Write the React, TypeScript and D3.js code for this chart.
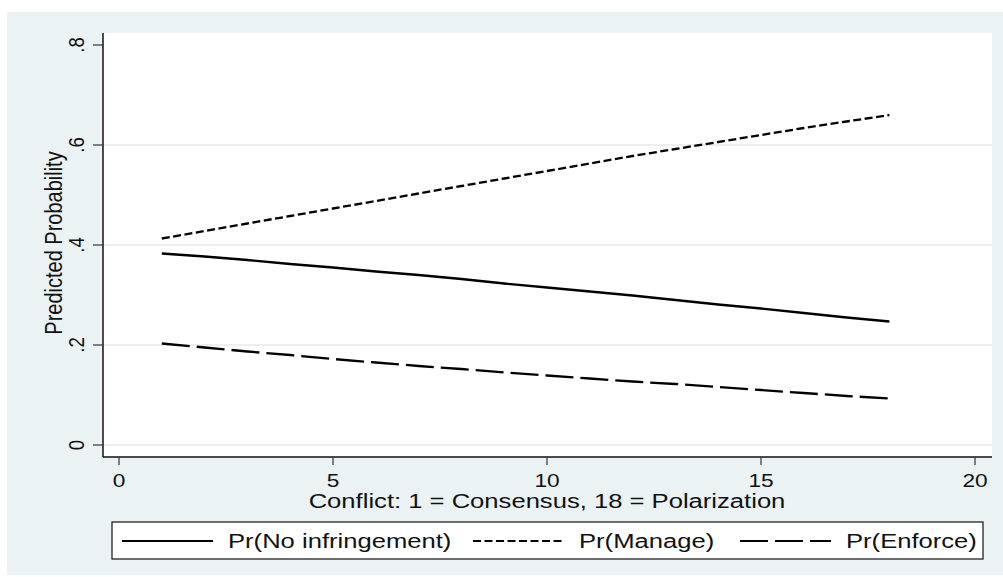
import { useEffect, useRef } from 'react';
import * as d3 from 'd3';

// conflict scale 1..18
const conflict = [1, 2, 3, 4, 5, 6, 7, 8, 9, 10, 11, 12, 13, 14, 15, 16, 17, 18];
const prNoInfringement = [0.383, 0.377, 0.370, 0.362, 0.355, 0.347, 0.340, 0.332, 0.323, 0.315, 0.307, 0.299, 0.290, 0.281, 0.273, 0.264, 0.255, 0.247];
const prManage = [0.413, 0.428, 0.443, 0.458, 0.473, 0.488, 0.503, 0.518, 0.533, 0.548, 0.563, 0.578, 0.592, 0.606, 0.620, 0.634, 0.647, 0.660];
const prEnforce = [0.203, 0.195, 0.187, 0.180, 0.172, 0.165, 0.158, 0.152, 0.145, 0.139, 0.133, 0.127, 0.122, 0.116, 0.110, 0.104, 0.098, 0.093];
const xTicks = [0, 5, 10, 15, 20];
const yTicks = [0, 0.2, 0.4, 0.6, 0.8];
const yTickLabels = ['0', '.2', '.4', '.6', '.8'];
const seriesNames = ['Pr(No infringement)', 'Pr(Manage)', 'Pr(Enforce)'];

const useD3 = (renderChartFn: (svg: any) => void, dependencies: any[]) => {
  const ref = useRef<SVGSVGElement>(null);
  useEffect(() => {
    const svg = d3.select(ref.current);
    svg.selectAll('*').remove();
    renderChartFn(svg);
  }, dependencies);
  return ref;
};

export default function App() {
  const width = 1003;
  const height = 577;
  const font = '"Liberation Sans", Arial, sans-serif';
  const sx = 1.22; // text in the picture is stretched wide

  const ref = useD3((svg) => {
    const plot = { left: 103, right: 992, top: 33, bottom: 457 };
    const x = d3.scaleLinear().domain([0, 20]).range([119, 975]);
    const y = d3.scaleLinear().domain([0, 0.8]).range([445, 45]);

    // graph region
    svg.append('rect').attr('x', 7).attr('y', 12).attr('width', width - 7).attr('height', 563)
      .attr('fill', '#eaf2f3');
    svg.append('rect').attr('x', plot.left).attr('y', plot.top)
      .attr('width', plot.right - plot.left).attr('height', plot.bottom - plot.top)
      .attr('fill', '#ffffff');

    // grid (none drawn at the top tick)
    svg.selectAll('.grid').data(yTicks.filter((d) => d < 0.8)).join('line')
      .attr('x1', plot.left).attr('x2', plot.right)
      .attr('y1', (d) => y(d)).attr('y2', (d) => y(d))
      .attr('stroke', '#e3ebee').attr('stroke-width', 1.5);

    // axes
    svg.append('line').attr('x1', plot.left).attr('x2', plot.left).attr('y1', plot.top).attr('y2', plot.bottom)
      .attr('stroke', '#111').attr('stroke-width', 1.5);
    svg.append('line').attr('x1', plot.left).attr('x2', plot.right).attr('y1', plot.bottom).attr('y2', plot.bottom)
      .attr('stroke', '#111').attr('stroke-width', 1.5);

    yTicks.forEach((t, i) => {
      svg.append('line').attr('x1', 93).attr('x2', plot.left).attr('y1', y(t)).attr('y2', y(t))
        .attr('stroke', '#333').attr('stroke-width', 1.2);
      svg.append('text').text(yTickLabels[i])
        .attr('transform', `translate(84,${y(t)}) scale(${sx},1) rotate(-90)`)
        .attr('text-anchor', 'middle').style('font-family', font).style('font-size', '18.6px').attr('fill', '#111');
    });
    xTicks.forEach((t) => {
      svg.append('line').attr('x1', x(t)).attr('x2', x(t)).attr('y1', plot.bottom).attr('y2', 465)
        .attr('stroke', '#333').attr('stroke-width', 1.2);
      svg.append('text').text(String(t))
        .attr('transform', `translate(${x(t)},487) scale(${sx},1)`)
        .attr('text-anchor', 'middle').style('font-family', font).style('font-size', '18.6px').attr('fill', '#111');
    });

    svg.append('text').text('Conflict: 1 = Consensus, 18 = Polarization')
      .attr('transform', `translate(547,508) scale(${sx},1)`)
      .attr('text-anchor', 'middle').style('font-family', font).style('font-size', '21px').attr('fill', '#111');
    svg.append('text').text('Predicted Probability')
      .attr('transform', `translate(62,243) scale(${sx},1) rotate(-90)`)
      .attr('text-anchor', 'middle').style('font-family', font).style('font-size', '20px').attr('fill', '#111');

    // lines
    const series = [prNoInfringement, prManage, prEnforce];
    const dashes = ['none', '8,3.5', '28,7'];
    const line = d3.line<number>().x((_, i) => x(conflict[i])).y((d) => y(d));
    series.forEach((s, i) => {
      svg.append('path').attr('d', line(s)).attr('fill', 'none')
        .attr('stroke', '#000').attr('stroke-width', 2.3)
        .attr('stroke-dasharray', dashes[i]);
    });

    // legend
    svg.append('rect').attr('x', 112).attr('y', 522).attr('width', 871).attr('height', 37)
      .attr('fill', '#fff').attr('stroke', '#111').attr('stroke-width', 1.2);
    const legendStarts = [122, 473, 740];
    seriesNames.forEach((name, i) => {
      svg.append('line').attr('x1', legendStarts[i]).attr('x2', legendStarts[i] + 91)
        .attr('y1', 541).attr('y2', 541)
        .attr('stroke', '#000').attr('stroke-width', 2.2).attr('stroke-dasharray', dashes[i]);
      svg.append('text').text(name)
        .attr('transform', `translate(${legendStarts[i] + 106},548) scale(${sx},1)`)
        .style('font-family', font).style('font-size', '21px').attr('fill', '#111');
    });
  }, []);

  return (
    <svg ref={ref} width={width} height={height}
      style={{ position: 'absolute', left: 0, top: 0, background: '#fff' }} />
  );
}
